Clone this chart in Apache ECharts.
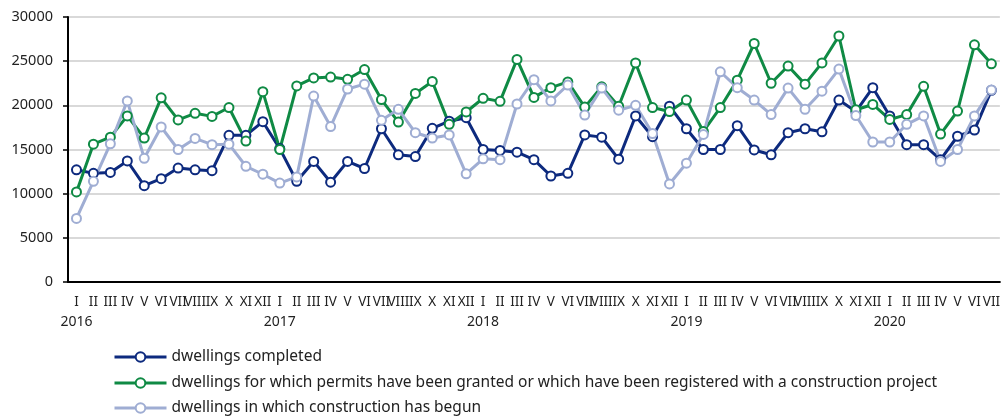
<!DOCTYPE html>
<html>
<head>
<meta charset="utf-8">
<script src="https://cdn.jsdelivr.net/npm/echarts@6/dist/echarts.min.js"></script>
<style>
html,body{margin:0;padding:0;background:#fff;}
#c{width:1003px;height:416px;}
</style>
</head>
<body>
<div id="c"></div>
<script>
var months = ['I','II','III','IV','V','VI','VII','VIII','IX','X','XI','XII',
  'I','II','III','IV','V','VI','VII','VIII','IX','X','XI','XII',
  'I','II','III','IV','V','VI','VII','VIII','IX','X','XI','XII',
  'I','II','III','IV','V','VI','VII','VIII','IX','X','XI','XII',
  'I','II','III','IV','V','VI','VII'];
var yearLabels = {0:'2016',12:'2017',24:'2018',36:'2019',48:'2020'};

var completed = [12700,12300,12400,13700,10900,11700,12900,12700,12600,16600,16600,18150,
  15100,11400,13650,11300,13650,12850,17350,14400,14200,17400,18200,18600,
  15000,14900,14700,13850,12000,12300,16650,16400,13900,18800,16450,19900,
  17350,15000,15000,17700,14950,14400,16900,17350,17000,20600,19300,22000,
  18800,15550,15550,13850,16500,17200,21700];
var permits = [10200,15600,16400,18800,16300,20850,18350,19100,18750,19750,15950,21550,
  15000,22200,23100,23200,22950,24050,20650,18100,21350,22700,17850,19250,
  20800,20450,25200,20900,22000,22650,19800,22100,19900,24800,19750,19300,
  20600,17050,19750,22850,27000,22500,24450,22400,24800,27850,19500,20100,
  18400,18950,22150,16750,19350,26850,24700];
var begun = [7200,11400,15650,20500,14000,17550,15000,16250,15550,15600,13100,12200,
  11200,11900,21050,17600,21850,22400,18300,19550,16900,16300,16650,12250,
  13950,13850,20150,22900,20500,22300,18900,21950,19450,20000,16800,11100,
  13450,16700,23800,22000,20600,18950,21950,19550,21600,24100,18850,15850,
  15850,17850,18800,13650,15000,18800,21750];

var seriesNames = ['dwellings completed',
  'dwellings for which permits have been granted or which have been registered with a construction project',
  'dwellings in which construction has begun'];
var colors = ['#0d2a7e','#0f8a44','#9fadd3'];
var yTicks = {min:0, max:30000, interval:5000};

var chart = echarts.init(document.getElementById('c'));
function mk(name, data, color){
  return {
    name:name, type:'line', data:data, symbol:'circle', symbolSize:9,
    itemStyle:{color:'#fff', borderColor:color, borderWidth:2},
    lineStyle:{color:color, width:3},
    emphasis:{disabled:true}, animation:false
  };
}
var legendTops = [349, 375, 400];
var legends = seriesNames.map(function(n,i){
  return {
    orient:'vertical', left:113, top:legendTops[i], padding:0,
    itemWidth:52, itemHeight:12, itemGap:0,
    textStyle:{fontSize:15.5, color:'#222', fontFamily:'Noto Sans', lineHeight:16},
    data:[{name:n, itemStyle:{color:'#fff', borderColor:colors[i], borderWidth:2}, lineStyle:{color:colors[i], width:3}}]
  };
});
chart.setOption({
  animation:false,
  textStyle:{fontFamily:'Noto Sans'},
  grid:{left:68, right:0, top:17, bottom:134},
  legend:legends,
  xAxis:{
    type:'category', data:months, boundaryGap:true,
    axisLine:{lineStyle:{color:'#000', width:2}},
    axisTick:{show:false},
    axisLabel:{interval:0, margin:11, color:'#222', fontSize:13.5,
      formatter:function(v, idx){
        if (yearLabels[idx]) return '{m|'+v+'}\n{y|'+yearLabels[idx]+'}';
        return '{m|'+v+'}';
      },
      rich:{m:{fontSize:13.5, color:'#222', lineHeight:18, fontFamily:'Noto Sans'}, y:{fontSize:14, color:'#222', lineHeight:22, fontFamily:'Noto Sans'}},
      verticalAlign:'top'
    }
  },
  yAxis:{
    type:'value', min:yTicks.min, max:yTicks.max, interval:yTicks.interval,
    axisLine:{show:true, lineStyle:{color:'#000', width:2}},
    axisTick:{show:true, length:5, lineStyle:{color:'#000', width:1.5}},
    axisLabel:{color:'#222', fontSize:14.5, margin:15, formatter:function(v){return String(v);}},
    splitLine:{lineStyle:{color:'#d9d9d9', width:2}}
  },
  series:[mk(seriesNames[0], completed, colors[0]), mk(seriesNames[1], permits, colors[1]), mk(seriesNames[2], begun, colors[2])]
});
</script>
</body>
</html>
